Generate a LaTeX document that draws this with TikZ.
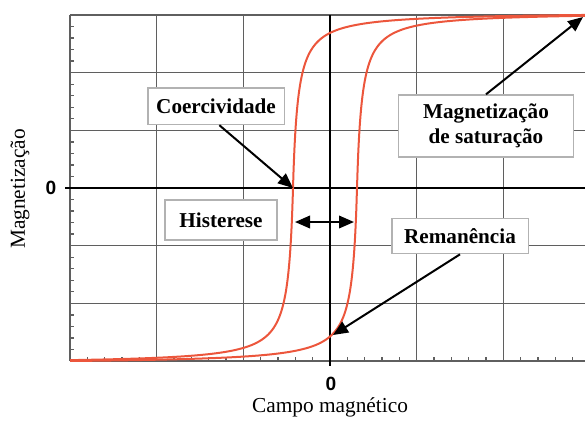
\documentclass[tikz,border=0pt]{standalone}
\usepackage{fontspec}
\setmainfont{Liberation Serif}[BoldFont={Liberation Serif Bold}]
\newfontfamily\zerofont{Liberation Sans}
\usepackage{xcolor}
\usetikzlibrary{arrows.meta}

\definecolor{loopred}{RGB}{236,86,60}
\definecolor{gridgray}{RGB}{95,95,95}

\tikzset{
  gridline/.style={color=gridgray, line width=0.9pt},
  axisline/.style={color=black, line width=1.7pt},
  tickmark/.style={color=gridgray, line width=0.8pt},
  loop/.style={color=loopred, line width=1.2pt},
  labelbox/.style={draw=black!30, line width=1pt, fill=white, font=\fontsize{12.7}{15}\selectfont\bfseries, align=center, inner sep=0pt},
  pointer/.style={-{Triangle[length=9pt, width=7.5pt]}, line width=1.2pt},
  zerolabel/.style={font=\zerofont\fontsize{11.5}{12}\selectfont\bfseries}
}

\begin{document}
\begin{tikzpicture}[x=0.6pt, y=-0.6pt]
    \useasboundingbox (0, 0) rectangle (585, 421);

    % grid
    \foreach \k in {0, ..., 5}
      \draw [gridline] (70 + 86.667*\k, 15) to (70 + 86.667*\k, 361);
    \foreach \k in {0, ..., 6}
      \draw [gridline] (70, 15 + 57.667*\k) to (585, 15 + 57.667*\k);

    % minor ticks
    \foreach \k in {0, ..., 29}
      \draw [tickmark] (70, 15 + 11.533*\k) to (74, 15 + 11.533*\k);
    \foreach \k in {1, ..., 29}
      \draw [tickmark] (70 + 17.333*\k, 361) to (70 + 17.333*\k, 357);

    % axes
    \draw [axisline] (65, 188) to (585, 188);
    \draw [axisline] (330, 15) to (330, 366);
    \node [zerolabel] (zeroy) at (51, 188) {0};
    \node [zerolabel] (zerox) at (331, 384) {0};

    \node [rotate=90, font=\fontsize{12.8}{15}\selectfont] (ylab) at (20, 189) {Magnetização};
    \node [font=\fontsize{12.8}{15}\selectfont] (xlab) at (330, 407) {Campo magnético};

    % hysteresis loop
    \begin{scope}
      \clip (70, 10) rectangle (585, 365);
      \draw [loop, samples=600, domain=70:585, smooth]
        plot (\x, {188 - 176*((\x - 293)/(abs(\x - 293) + 5))});
      \draw [loop, samples=600, domain=70:585, smooth]
        plot (\x, {188 - 176*((\x - 357)/(abs(\x - 357) + 5))});
    \end{scope}

    % labels
    \node [labelbox, minimum width=82pt, minimum height=22pt] (coerc) at (216, 106) {Coercividade};
    \node [labelbox, minimum width=67pt, minimum height=24pt] (hist) at (221, 220) {Histerese};
    \node [labelbox, minimum width=82pt, minimum height=21pt] (reman) at (460, 236) {Remanência};
    \node [labelbox, minimum width=105pt, minimum height=37pt] (satur) at (486, 126) {Magnetização\\de saturação};

    \coordinate (hcpoint) at (293, 188);
    \coordinate (mrpoint) at (333, 335);
    \coordinate (mspoint) at (583, 17);
    \coordinate (hleft) at (295, 222);
    \coordinate (hright) at (354, 222);

    \draw [pointer] ([xshift=2pt]coerc.south) to (hcpoint);
    \draw [pointer] (reman.south) to (mrpoint);
    \draw [pointer] (satur.north) to (mspoint);
    \draw [pointer, {Triangle[length=9pt, width=7.5pt]}-{Triangle[length=9pt, width=7.5pt]}] (hleft) to (hright);

  \end{tikzpicture}
\end{document}
